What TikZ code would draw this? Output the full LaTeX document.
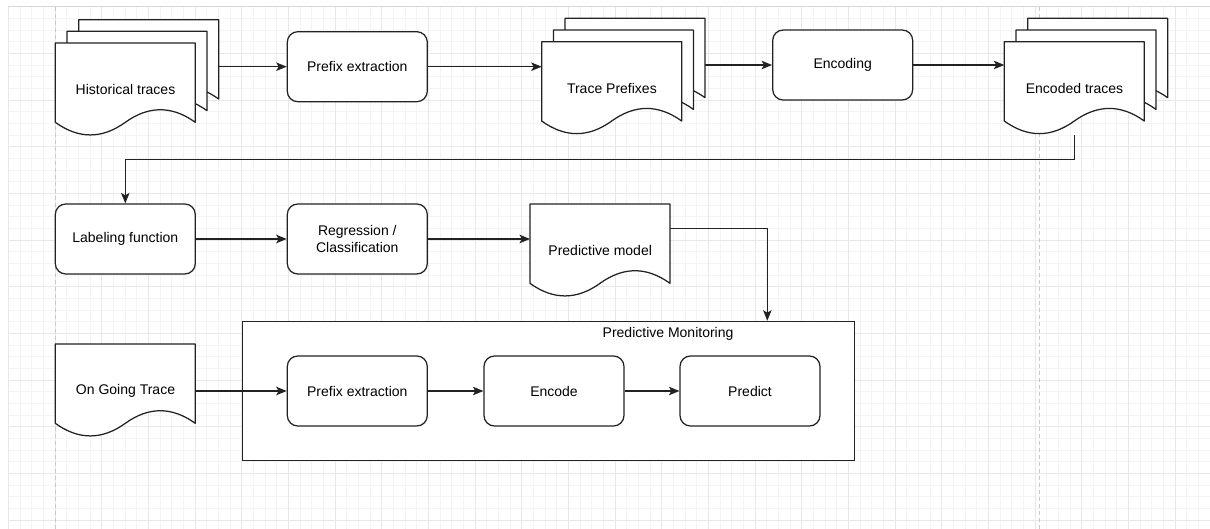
\documentclass[tikz,border=0pt]{standalone}
\usepackage{fontspec}
\setmainfont{Liberation Sans}
\usetikzlibrary{arrows.meta,calc}
\definecolor{gridminor}{HTML}{F4F4F4}
\definecolor{gridmajor}{HTML}{E8E8E8}
\definecolor{edgeline}{HTML}{D6D6D6}
\definecolor{pageline}{HTML}{C8C8C8}
\definecolor{ink}{HTML}{222222}
\newcommand\lblfont{\fontsize{14pt}{16.5pt}\selectfont}
\tikzset{
  inkline/.style={draw=ink, line width=1.25pt},
  procbox/.style={inkline, fill=white, rounded corners=10.5pt, minimum width=140pt,
    minimum height=70pt, inner sep=0pt, align=center, font=\lblfont},
  doclabel/.style={minimum width=140pt, minimum height=93.33pt, inner sep=0pt,
    align=center, font=\lblfont, anchor=north west},
  arr/.style={draw=ink, line width=1.25pt, -{Stealth[length=10.5pt,width=8.5pt,inset=2.5pt]}},
  docpage/.pic={
    \draw[inkline, fill=white, line join=round]
      (0,0) -- (140,0) -- (140,79.33)
      .. controls (116.67,62.53) and (93.33,62.53) .. (70,79.33)
      .. controls (46.67,96.13) and (23.33,96.13) .. (0,79.33) -- cycle;
  },
}
% a stack of three pages, front page's upper-left corner at (#1,#2)
\newcommand\pagestack[2]{%
  \pic at ({#1+23.33},{#2-23.33}) {docpage};
  \pic at ({#1+11.67},{#2-11.67}) {docpage};
  \pic at (#1,#2) {docpage};
}
\begin{document}
\begin{tikzpicture}[x=1pt,y=-1pt]
\useasboundingbox (0,0) rectangle (1210,529);
\fill[white] (0,0) rectangle (1210,529);

% background grid
\foreach \i in {0,...,103}
  \draw[gridminor, line width=0.8pt] ({8.3+11.667*\i},6.7) -- ({8.3+11.667*\i},529);
\foreach \j in {0,...,44}
  \draw[gridminor, line width=0.8pt] (8.3,{6.7+11.667*\j}) -- (1210,{6.7+11.667*\j});
\foreach \i in {0,...,25}
  \draw[gridmajor, line width=0.8pt] ({8.3+46.667*\i},6.7) -- ({8.3+46.667*\i},529);
\foreach \j in {0,...,11}
  \draw[gridmajor, line width=0.8pt] (8.3,{6.7+46.667*\j}) -- (1210,{6.7+46.667*\j});
\draw[edgeline, line width=1pt] (8.3,6.7) -- (1210,6.7);
% page breaks
\draw[pageline, line width=1pt, dash pattern=on 4pt off 3pt] (55.3,6.7) -- (55.3,529);
\draw[pageline, line width=1pt, dash pattern=on 4pt off 3pt] (1039.3,6.7) -- (1039.3,529);

% document shapes
\pagestack{55.3}{43}
\pagestack{541.7}{41.7}
\pagestack{1004.3}{41.7}
\pic at (530,204) {docpage};
\pic at (55.3,344) {docpage};

% first row
\node[doclabel] (hist) at (55.3,43) {Historical traces};
\node[procbox] (pre1) at (357.3,66.7) {Prefix extraction};
\node[doclabel] (tp) at (541.7,41.7) {Trace Prefixes};
\node[procbox] (enc) at (842.7,65) {Encoding};
\node[doclabel] (et) at (1004.3,41.7) {Encoded traces};

% second row
\node[procbox] (lab) at (125.3,239) {Labeling function};
\node[procbox] (reg) at (357.3,239) {Regression /\\Classification};
\node[doclabel] (pm) at (530,204) {Predictive model};

% third row
\node[doclabel] (og) at (55.3,344) {On Going Trace};
\node[inkline, fill=white, minimum width=612.3pt, minimum height=139.3pt, inner sep=0pt,
  anchor=north west] (mon) at (241.7,320.7) {};
\node[anchor=west, inner sep=0pt, font=\lblfont] (montitle) at (602.5,333.5) {Predictive Monitoring};
\node[procbox] (pre2) at (357.3,391) {Prefix extraction};
\node[procbox] (encd) at (554,391) {Encode};
\node[procbox] (pred) at (750,391) {Predict};

% connectors
\coordinate (histR) at ([xshift=23.33pt]hist.east);
\coordinate (tpR) at ([xshift=23.33pt]tp.east);
\coordinate (monIn) at ([xshift=525.6pt]mon.north west);
\draw[arr] (histR |- pre1.west) -- (pre1.west);
\draw[arr] (pre1.east) -- (tp.west |- pre1.east);
\draw[arr] (tpR |- enc.west) -- (enc.west);
\draw[arr] (enc.east) -- (et.west |- enc.east);
\draw[arr] (et.south) -- ++(0,24) -| (lab.north);
\draw[arr] (lab.east) -- (reg.west);
\draw[arr] (reg.east) -- (pm.west |- reg.east);
\draw[arr] ([yshift=-24.3pt]pm.north east) -| (monIn);
\draw[arr] (og.east |- pre2.west) -- (pre2.west);
\draw[arr] (pre2.east) -- (encd.west);
\draw[arr] (encd.east) -- (pred.west);
\end{tikzpicture}
\end{document}
